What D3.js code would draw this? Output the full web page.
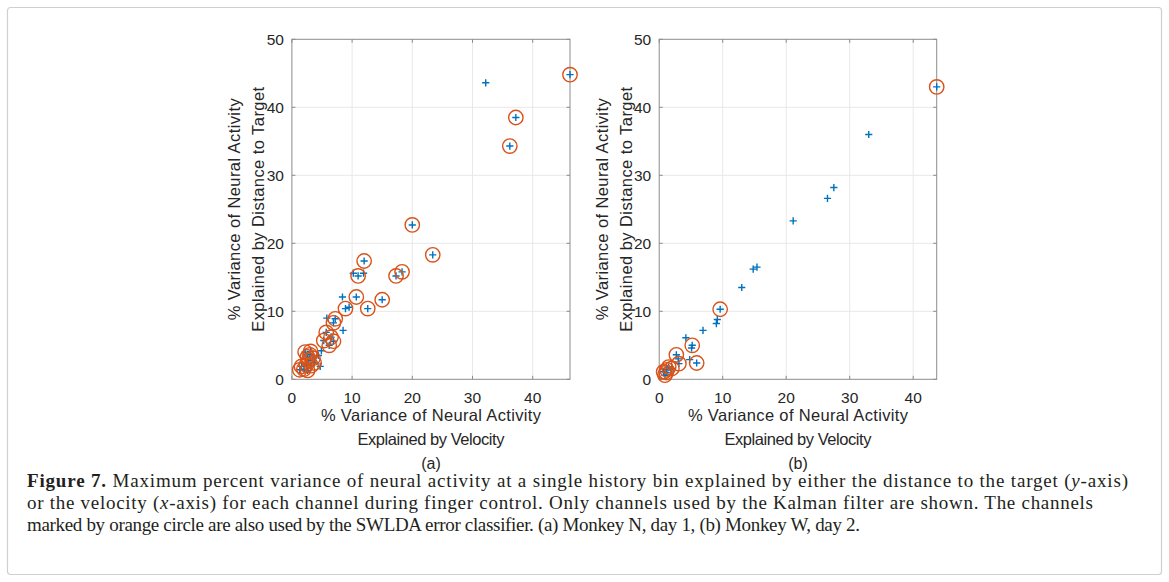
<!DOCTYPE html>
<html>
<head>
<meta charset="utf-8">
<script src="https://cdn.jsdelivr.net/npm/d3@7"></script>
<style>
  html, body { margin: 0; padding: 0; background: #fff; }
  svg { display: block; }
  .tick-label, .axis-label { font-family: "Liberation Sans", Arial, sans-serif; fill: #262626; }
  .caption { font-family: "Liberation Serif", "Times New Roman", serif; fill: #231f20; }
</style>
</head>
<body>
<svg id="fig" width="1169" height="582"></svg>
<script>
// Panel (a): Monkey N, day 1 — % variance explained by velocity (x) and by distance to target (y)
const aVelocity = [32.2, 46.2, 37.2, 36.2, 20.0, 23.4, 12.0, 10.2, 11.0, 11.9, 18.3, 17.3,
  8.4, 10.7, 15.0, 12.6, 8.9, 9.5, 7.2, 5.8, 6.9, 8.5, 5.7, 6.5, 6.9, 6.2, 5.3, 4.9,
  4.7, 2.2, 3.0, 3.1, 2.6, 3.5, 2.8, 1.6, 1.3, 2.4, 2.0, 3.7, 2.6, 3.2, 4.4];
const aDistance = [43.6, 44.8, 38.5, 34.3, 22.7, 18.3, 17.4, 15.6, 15.2, 15.6, 15.8, 15.2,
  12.1, 12.1, 11.7, 10.4, 10.4, 10.6, 8.9, 9.0, 8.3, 7.2, 6.9, 6.2, 5.6, 5.0, 5.7, 4.2,
  1.9, 4.0, 3.6, 4.1, 3.3, 3.1, 2.8, 1.9, 1.4, 2.1, 1.5, 2.4, 1.3, 2.0, 3.5];
// 1 = channel also used by the SWLDA error classifier
const aSwlda = [0, 1, 1, 1, 1, 1, 1, 0, 1, 0, 1, 1,
  0, 1, 1, 1, 1, 0, 1, 0, 1, 0, 1, 1, 1, 1, 1, 0,
  0, 1, 1, 1, 1, 1, 1, 1, 1, 1, 1, 1, 1, 1, 0];

// Panel (b): Monkey W, day 2
const bVelocity = [43.7, 33.0, 27.5, 26.5, 21.1, 15.4, 14.8, 13.0, 9.6, 9.15, 9.0, 6.9,
  4.2, 5.2, 5.1, 2.7, 3.0, 4.8, 5.9, 3.1, 1.2, 0.7, 1.5, 2.0, 0.9, 1.1];
const bDistance = [43.0, 36.0, 28.2, 26.6, 23.3, 16.5, 16.2, 13.5, 10.3, 8.8, 8.2, 7.2,
  6.1, 5.0, 4.6, 3.6, 3.0, 2.9, 2.4, 2.3, 1.4, 1.1, 1.8, 1.6, 0.6, 1.0];
const bSwlda = [1, 0, 0, 0, 0, 0, 0, 0, 1, 0, 0, 0,
  0, 1, 0, 1, 0, 0, 1, 1, 1, 1, 1, 1, 1, 1];

const xTicks = [0, 10, 20, 30, 40];
const yTicks = [0, 10, 20, 30, 40, 50];
const xLabelLines = ["% Variance of Neural Activity", "Explained by Velocity"];
const yLabelLines = ["% Variance of Neural Activity", "Explained by Distance to Target"];

const captionLines = [
  [{t: "Figure 7.", b: true}, {t: " Maximum percent variance of neural activity at a single history bin explained by either the distance to the target ("}, {t: "y", i: true}, {t: "-axis)"}],
  [{t: "or the velocity ("}, {t: "x", i: true}, {t: "-axis) for each channel during finger control. Only channels used by the Kalman filter are shown. The channels"}],
  [{t: "marked by orange circle are also used by the SWLDA error classifier. (a) Monkey N, day 1, (b) Monkey W, day 2."}]
];

const BLUE = "#0072BD", ORANGE = "#D95319";
const svg = d3.select("#fig");

// outer figure frame
svg.append("rect")
  .attr("x", 7.5).attr("y", 7.5).attr("width", 1154).attr("height", 567)
  .attr("rx", 3).attr("fill", "none").attr("stroke", "#cfcfcf").attr("stroke-width", 1.2);

function panel(opts) {
  const {left, right, top, bottom, xMax, xs, ys, flags, tag, yLab1, yLab2} = opts;
  const x = d3.scaleLinear().domain([0, xMax]).range([left, right]);
  const y = d3.scaleLinear().domain([0, 50]).range([bottom, top]);
  const g = svg.append("g");

  // grid
  g.append("g").selectAll("line.vg").data(xTicks.filter(t => t > 0)).join("line")
    .attr("x1", d => x(d)).attr("x2", d => x(d)).attr("y1", top).attr("y2", bottom)
    .attr("stroke", "#e8e8e8").attr("stroke-width", 1);
  g.append("g").selectAll("line.hg").data(yTicks.filter(t => t > 0 && t < 50)).join("line")
    .attr("y1", d => y(d)).attr("y2", d => y(d)).attr("x1", left).attr("x2", right)
    .attr("stroke", "#e8e8e8").attr("stroke-width", 1);

  // axes box with inward ticks on all sides
  const tl = 3.5;
  const axisColor = "#8c8c8c";
  const axG = g.append("g").attr("stroke", axisColor).attr("stroke-width", 1).attr("fill", "none");
  axG.append("rect").attr("x", left).attr("y", top).attr("width", right - left).attr("height", bottom - top);
  xTicks.forEach(t => {
    axG.append("line").attr("x1", x(t)).attr("x2", x(t)).attr("y1", bottom).attr("y2", bottom - tl);
    axG.append("line").attr("x1", x(t)).attr("x2", x(t)).attr("y1", top).attr("y2", top + tl);
  });
  yTicks.forEach(t => {
    axG.append("line").attr("y1", y(t)).attr("y2", y(t)).attr("x1", left).attr("x2", left + tl);
    axG.append("line").attr("y1", y(t)).attr("y2", y(t)).attr("x1", right).attr("x2", right - tl);
  });

  // tick labels
  g.append("g").selectAll("text").data(xTicks).join("text")
    .attr("class", "tick-label").attr("x", d => x(d)).attr("y", bottom + 18)
    .attr("text-anchor", "middle").attr("dominant-baseline", "central")
    .attr("font-size", 15.5).text(d => d);
  g.append("g").selectAll("text").data(yTicks).join("text")
    .attr("class", "tick-label").attr("x", left - 8).attr("y", d => y(d))
    .attr("text-anchor", "end").attr("dominant-baseline", "central")
    .attr("font-size", 15.5).text(d => d);

  // axis labels
  const cx = (left + right) / 2, cy = (top + bottom) / 2;
  const xLabWidths = [220, 147], yLabWidths = [222, 245];
  xLabelLines.forEach((s, i) => {
    g.append("text").attr("class", "axis-label").attr("x", cx).attr("y", 415 + i * 24)
      .attr("text-anchor", "middle").attr("dominant-baseline", "central")
      .attr("font-size", 16.5).attr("textLength", xLabWidths[i]).attr("lengthAdjust", "spacing")
      .text(s);
  });
  g.append("text").attr("class", "axis-label").attr("x", cx).attr("y", 463)
    .attr("text-anchor", "middle").attr("dominant-baseline", "central")
    .attr("font-size", 16).text(tag);
  [yLab1, yLab2].forEach((px, i) => {
    g.append("text").attr("class", "axis-label")
      .attr("transform", `translate(${px},${cy}) rotate(-90)`)
      .attr("text-anchor", "middle").attr("dominant-baseline", "central")
      .attr("font-size", 16.5).attr("textLength", yLabWidths[i]).attr("lengthAdjust", "spacing")
      .text(yLabelLines[i]);
  });

  const pts = xs.map((v, i) => ({vx: v, vy: ys[i], c: flags[i]}));

  // all channels: blue plus markers
  const s = 3.6;
  g.append("g").selectAll("path").data(pts).join("path")
    .attr("d", d => `M${x(d.vx) - s},${y(d.vy)}H${x(d.vx) + s}M${x(d.vx)},${y(d.vy) - s}V${y(d.vy) + s}`)
    .attr("stroke", BLUE).attr("stroke-width", 1.4).attr("fill", "none");

  // channels shared with the error classifier: orange circles
  g.append("g").selectAll("circle").data(pts.filter(d => d.c)).join("circle")
    .attr("cx", d => x(d.vx)).attr("cy", d => y(d.vy)).attr("r", 7.2)
    .attr("fill", "none").attr("stroke", ORANGE).attr("stroke-width", 1.4);
}

panel({left: 291.9, right: 570, top: 39.3, bottom: 379.3, xMax: 46.2,
  xs: aVelocity, ys: aDistance, flags: aSwlda, tag: "(a)", yLab1: 234, yLab2: 258});
panel({left: 659.2, right: 936.7, top: 39.3, bottom: 379.3, xMax: 43.7,
  xs: bVelocity, ys: bDistance, flags: bSwlda, tag: "(b)", yLab1: 602, yLab2: 626});

// caption, ragged right
const capLeft = 27;
const capWidths = [1101, 1066, 833];
captionLines.forEach((parts, i) => {
  const t = svg.append("text").attr("class", "caption")
    .attr("x", capLeft).attr("y", 487 + i * 22).attr("font-size", 19)
    .attr("textLength", capWidths[i]).attr("lengthAdjust", "spacing");
  parts.forEach(p => {
    t.append("tspan").text(p.t)
      .attr("font-weight", p.b ? "bold" : null)
      .attr("font-style", p.i ? "italic" : null);
  });
});
</script>
</body>
</html>
